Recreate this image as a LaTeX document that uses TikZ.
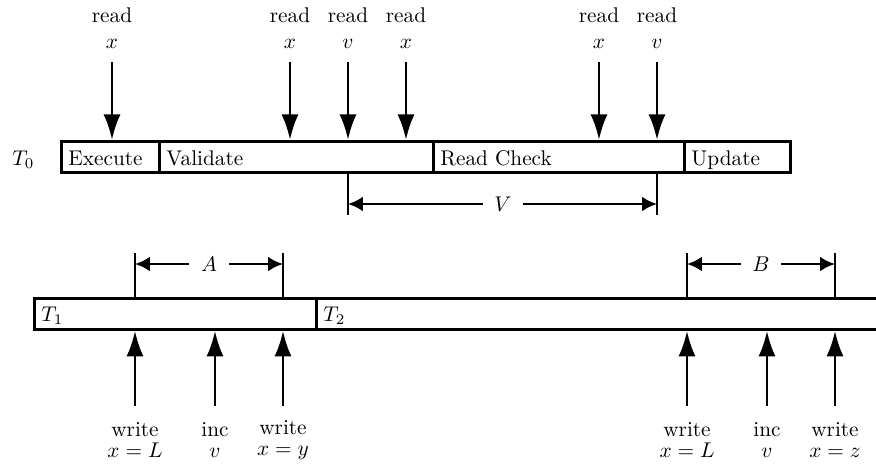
\documentclass[tikz,border=0pt]{standalone}
\usetikzlibrary{arrows.meta}
\begin{document}
\begin{tikzpicture}[x=0.47pt,y=-0.47pt,
  box/.style={draw,line width=1.3pt,minimum height={31*0.47pt},anchor=north west,inner sep=0pt},
  boxtext/.style={anchor=base west,inner sep=0pt},
  rd/.style={line width=1.3pt,-{Latex[length=12pt,width=8pt]}},
  wr/.style={line width=1.3pt,-{Latex[length=12pt,width=8pt]}},
  ext/.style={line width=1.3pt},
  dim/.style={line width=1.3pt,-{Latex[length=7pt,width=7pt]}},
  dimlab/.style={inner sep=0pt,minimum width=40*0.47pt},
  lab/.style={align=center,inner sep=0pt}]
\useasboundingbox (0,0) rectangle (876,463);
\clip (0,0) rectangle (876,463);

% T0 boxes
\node[box,minimum width={98*0.47pt}]  (exe) at (60,140) {};
\node[box,minimum width={274*0.47pt}] (val) at (158,140) {};
\node[box,minimum width={251*0.47pt}] (rc)  at (432,140) {};
\node[box,minimum width={106*0.47pt}] (upd) at (683,140) {};
\node[boxtext] (exet) at (68,165) {Execute};
\node[boxtext] (valt) at (166,165) {Validate};
\node[boxtext] (rct)  at (440,165) {Read Check};
\node[boxtext] (updt) at (691,165) {Update};
\node[boxtext] (t0) at (12,165) {$T_0$};

% T1, T2 boxes
\node[box,minimum width={282*0.47pt}] (t1) at (33,297) {};
\node[box,minimum width={600*0.47pt}] (t2) at (315,297) {};
\node[boxtext] (t1t) at (41,321) {$T_1$};
\node[boxtext] (t2t) at (323,321) {$T_2$};

% read labels and arrows
\node[lab] (l1) at (112,28) {read\\$x$};
\node[lab] (l2) at (290,28) {read\\$x$};
\node[lab] (l3) at (348,28) {read\\$v$};
\node[lab] (l4) at (406,28) {read\\$x$};
\node[lab] (l5) at (599,28) {read\\$x$};
\node[lab] (l6) at (657,28) {read\\$v$};
\coordinate (r1) at (112,62);
\coordinate (r2) at (290,62);
\coordinate (r3) at (348,62);
\coordinate (r4) at (406,62);
\coordinate (r5) at (599,62);
\coordinate (r6) at (657,62);
\draw[rd] (r1) -- (r1 |- exe.north);
\draw[rd] (r2) -- (r2 |- val.north);
\draw[rd] (r3) -- (r3 |- val.north);
\draw[rd] (r4) -- (r4 |- val.north);
\draw[rd] (r5) -- (r5 |- rc.north);
\draw[rd] (r6) -- (r6 |- rc.north);

% V dimension
\coordinate (v1) at (348,215);
\coordinate (v2) at (657,215);
\draw[ext] (v1) -- (v1 |- val.south);
\draw[ext] (v2) -- (v2 |- rc.south);
\node[dimlab] (vl) at (503,204) {$V$};
\draw[dim] (vl.west) -- (vl.west -| v1);
\draw[dim] (vl.east) -- (vl.east -| v2);

% A dimension
\coordinate (a1) at (135,253);
\coordinate (a2) at (283,253);
\draw[ext] (a1) -- (a1 |- t1.north);
\draw[ext] (a2) -- (a2 |- t1.north);
\node[dimlab] (al) at (209,264) {$A$};
\draw[dim] (al.west) -- (al.west -| a1);
\draw[dim] (al.east) -- (al.east -| a2);

% B dimension
\coordinate (b1) at (687,253);
\coordinate (b2) at (835,253);
\draw[ext] (b1) -- (b1 |- t2.north);
\draw[ext] (b2) -- (b2 |- t2.north);
\node[dimlab] (bl) at (761,264) {$B$};
\draw[dim] (bl.west) -- (bl.west -| b1);
\draw[dim] (bl.east) -- (bl.east -| b2);

% write / inc labels and arrows
\node[lab] (w1) at (135,440) {write\\[-2pt]$x=L$};
\node[lab] (w2) at (215,440) {inc\\[-2pt]$v$};
\node[lab] (w3) at (283,440) {write\\[-2pt]$x=y$};
\node[lab] (w4) at (687,440) {write\\[-2pt]$x=L$};
\node[lab] (w5) at (767,440) {inc\\[-2pt]$v$};
\node[lab] (w6) at (835,440) {write\\[-2pt]$x=z$};
\coordinate (s1) at (135,406);
\coordinate (s2) at (215,406);
\coordinate (s3) at (283,406);
\coordinate (s4) at (687,406);
\coordinate (s5) at (767,406);
\coordinate (s6) at (835,406);
\draw[wr] (s1) -- (s1 |- t1.south);
\draw[wr] (s2) -- (s2 |- t1.south);
\draw[wr] (s3) -- (s3 |- t1.south);
\draw[wr] (s4) -- (s4 |- t2.south);
\draw[wr] (s5) -- (s5 |- t2.south);
\draw[wr] (s6) -- (s6 |- t2.south);
\end{tikzpicture}
\end{document}
